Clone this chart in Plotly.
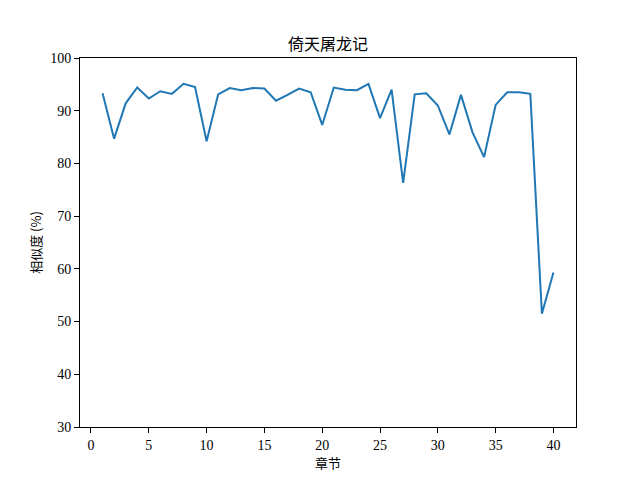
import plotly.graph_objects as go

chapters = list(range(1, 41))
similarity = [93.3, 84.7, 91.4, 94.4, 92.3, 93.7, 93.2, 95.1, 94.5, 84.2,
              93.1, 94.3, 93.9, 94.3, 94.2, 91.9, 93.0, 94.2, 93.5, 87.3,
              94.4, 94.0, 93.9, 95.1, 88.6, 94.0, 76.3, 93.1, 93.3, 91.0,
              85.5, 93.0, 85.9, 81.2, 91.1, 93.5, 93.5, 93.2, 51.5, 59.3]
x_ticks = [0, 5, 10, 15, 20, 25, 30, 35, 40]
y_ticks = [30, 40, 50, 60, 70, 80, 90, 100]

font_family = "Liberation Serif, Noto Sans CJK SC, serif"

fig = go.Figure()
fig.add_trace(go.Scatter(x=chapters, y=similarity, mode="lines",
                         line=dict(color="#1f77b4", width=2)))

axis_common = dict(showline=True, linecolor="black", linewidth=1, mirror=True,
                   ticks="outside", ticklen=5, tickcolor="black", tickwidth=1,
                   showgrid=False, zeroline=False,
                   tickfont=dict(family=font_family, size=14, color="black"))

fig.update_layout(
    width=640, height=480,
    paper_bgcolor="white", plot_bgcolor="white",
    margin=dict(l=72, r=72, t=50, b=61),
    showlegend=False,
    title=dict(text="倚天屠龙记", x=0.5, xref="paper", xanchor="center",
               y=1 - 36 / 480, yanchor="middle",
               font=dict(family="Noto Sans CJK SC", size=16, color="black")),
    xaxis=dict(range=[-0.95, 41.95], tickvals=x_ticks,
               title=dict(text="章节", standoff=6,
                          font=dict(family="Noto Sans CJK SC", size=13, color="black")),
               **axis_common),
    yaxis=dict(range=[30, 100], tickvals=y_ticks,
               title=dict(text="相似度 (%)", standoff=5,
                          font=dict(family="Noto Sans CJK SC", size=13, color="black")),
               **axis_common),
)

fig.write_html("out.html")
